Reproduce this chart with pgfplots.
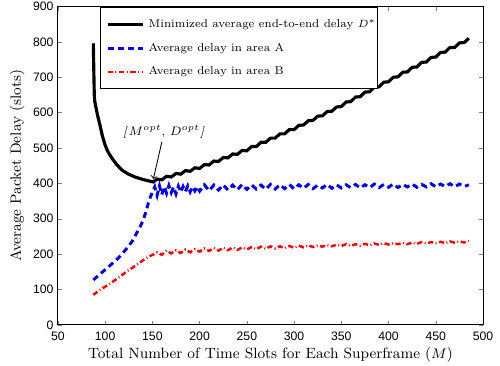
\documentclass[border=0pt]{standalone}
\usepackage{fontspec}
\usepackage{pgfplots}
\pgfplotsset{compat=1.18}
\newfontfamily\tickfont{Liberation Sans}
\begin{document}
\begin{tikzpicture}
\begin{axis}[
  scale only axis,
  width=243pt, height=182pt,
  xmin=50, xmax=500, ymin=0, ymax=900,
  xtick={50,100,...,500}, ytick={0,100,...,900},
  tick align=inside, major tick length=2.3pt,
  /pgf/number format/assume math mode=true,
  ticklabel style={font=\tickfont\fontsize{7}{8}\selectfont},
  yticklabel style={xshift=1pt},
  xticklabel style={yshift=-0.5pt},
  label style={font=\fontsize{8.5}{10}\selectfont},
  xlabel={Total Number of Time Slots for Each Superframe ($M$)},
  ylabel={Average Packet Delay (slots)},
  xlabel style={yshift=3pt},
  ylabel style={yshift=-2pt},
  axis line style={line width=0.6pt},
  legend style={at={(rel axis cs:0.099,0.998)}, anchor=north west, draw=black, line width=0.6pt,
    font=\fontsize{6.5}{8}\selectfont, row sep=3.3pt, inner xsep=0pt, inner ysep=4.6pt,
    nodes={inner xsep=0.8pt}},
  legend cell align=left,
  legend image code/.code={\path (0cm,0cm) (0.876cm,0cm); \draw[#1] (0.11cm,0cm) -- (0.83cm,0cm);},
]
\addplot[black, line width=1.8pt] coordinates {
(87.5,796)(88,720)(88.5,650)(89,632)(90,618)(92,592)(94.5,565)(97,535)(100,508)(103,489)(107,472)(112,454)(117.5,438)(124,427)(131.6,418)(140,411)(149,405)(151,404)
(155,412)(160,410)(165,420)(170,418)(175,428)(180,426)(185,436)(190,434)(195,444)(200,442)
(205,453)(210,452)(215,463)(220,462)(225,473)(230,472)(235,483)(240,482)(245,493)(250,492)
(255,504)(260,504)(265,516)(270,516)(275,528)(280,528)(285,540)(290,540)(295,552)(300,552)
(305,564)(310,565)(315,577)(320,578)(325,590)(330,591)(335,603)(340,604)(345,616)(350,617)
(355,630)(360,631)(365,644)(370,645)(375,658)(380,659)(385,672)(390,673)(395,686)(400,687)
(405,700)(410,701)(415,714)(420,715)(425,728)(430,729)(435,742)(440,743)(445,756)(450,757)
(455,770)(460,771)(465,784)(470,784)(475,797)(480,798)(485,810)
};
\addlegendentry{Minimized average end-to-end delay $D^{*}$}
\addplot[blue, line width=1.7pt, dash pattern=on 3.4pt off 2.4pt] coordinates {
(87.5,127)(93,140)(100,156)(107,172)(114,189)(119,204)(124.5,221)(129,238)(133.3,259)(137,277)(140.4,297)(143,318)(145.7,344)(148,362)(150,375)
(152.5,390)(155,366)(157.5,393)(160,368)(162.5,391)(165,372)(167.5,394)(170,374)(172.5,390)(175,370)(177.5,392)(180,375)(182.5,391)(185,377)(187.5,393)(190,376)(192.5,391)(195,379)(197.5,391)(200,378)
(205,396)(210,379)(215,395)(220,381)(225,396)(230,381)(235,395)(240,382)(245,397)(250,383)
(255,396)(260,384)(265,395)(270,383)(275,397)(280,384)(285,396)(290,385)(295,397)(300,384)
(305,396)(310,386)(315,397)(320,385)(325,395)(330,387)(335,397)(340,386)(345,396)(350,387)
(355,396)(360,388)(365,397)(370,387)(375,396)(380,388)(385,398)(390,388)(395,397)(400,389)
(405,398)(410,388)(415,397)(420,390)(425,398)(430,389)(435,397)(440,390)(445,399)(450,390)
(455,398)(460,391)(465,399)(470,390)(475,398)(480,391)(485,396)
};
\addlegendentry{Average delay in area A}
\addplot[red, line width=1.4pt, dash pattern=on 3pt off 1.5pt on 0.5pt off 1.5pt] coordinates {
(87.5,85)(93,96)(100,108)(107,120)(114,133)(121,147)(128,160)(134,171)(140.4,183)(146,193)(152,200)
(155,205)(160,198)(165,210)(170,202)(175,211)(180,203)(185,213)(190,205)(195,214)(200,207)
(205,216)(210,209)(215,217)(220,210)(225,218)(230,211)(235,219)(240,212)(245,219)(250,213)
(255,220)(260,214)(265,221)(270,215)(275,222)(280,216)(285,222)(290,217)(295,223)(300,218)
(305,224)(310,219)(315,225)(320,220)(325,225)(330,221)(335,226)(340,222)(345,227)(350,223)
(355,228)(360,223)(365,228)(370,224)(375,229)(380,225)(385,230)(390,226)(395,231)(400,227)
(405,231)(410,228)(415,232)(420,228)(425,233)(430,229)(435,234)(440,230)(445,234)(450,231)
(455,235)(460,231)(465,236)(470,232)(475,236)(480,233)(485,237)
};
\addlegendentry{Average delay in area B}
\node[font=\fontsize{6.6}{8}\selectfont] at (axis cs:162,545) {\textit{[}$M^{opt}$, $D^{opt}$\textit{]}};
\draw[->, line width=0.5pt] (axis cs:160,517) -- (axis cs:151,412);
\end{axis}
\pgfresetboundingbox
\path (current axis.south west) ++(-33.1pt,-23.4pt);
\path (current axis.north east) ++(9.7pt,3.7pt);
\end{tikzpicture}
\end{document}
